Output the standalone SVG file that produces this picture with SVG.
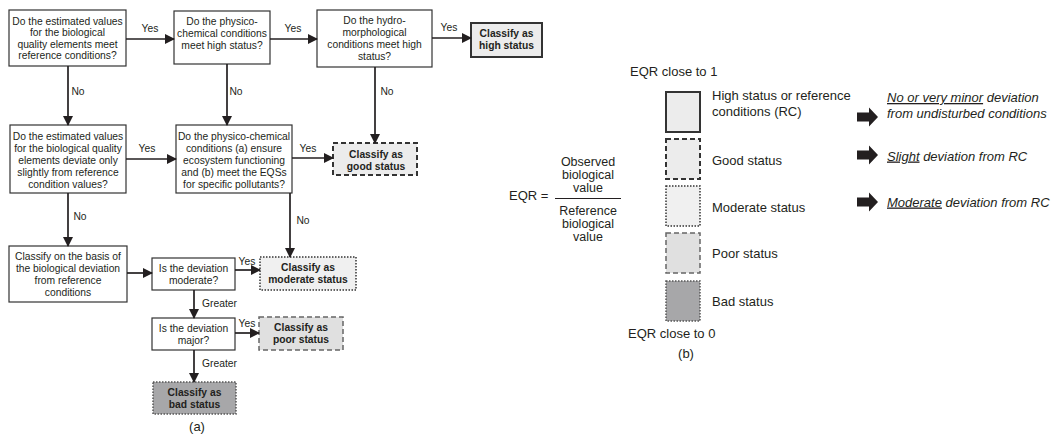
<svg xmlns="http://www.w3.org/2000/svg" width="1057" height="436" viewBox="0 0 1057 436">
<defs>
<marker id="ah" markerWidth="10" markerHeight="10" refX="9" refY="5" orient="auto" markerUnits="userSpaceOnUse">
<path d="M0,0 L10,5 L0,10 Z" fill="#231f20"/>
</marker>
<style>
text{font-family:"Liberation Sans",Arial,sans-serif;fill:#231f20}
.t{font-size:10.3px;text-anchor:middle}
.b{font-size:10.3px;text-anchor:middle;font-weight:bold}
.l{font-size:10.3px}
.lg{font-size:13px}
.fr{font-size:12.5px;text-anchor:middle}
.it{font-size:13px;font-style:italic}
.q{fill:#fff;stroke:#333;stroke-width:1.2}
.hi{fill:#ececec;stroke:#333;stroke-width:2}
.gd{fill:#ececec;stroke:#333;stroke-width:2;stroke-dasharray:5 3}
.md{fill:#f0f0f0;stroke:#333;stroke-width:1.5;stroke-dasharray:1.5 1.5}
.pr{fill:#e0e0e0;stroke:#666;stroke-width:1.5;stroke-dasharray:5 3}
.bd{fill:#a7a7a9;stroke:#555;stroke-width:1.5;stroke-dasharray:1.5 1.5}
.c{stroke:#231f20;stroke-width:1.7;fill:none;marker-end:url(#ah)}
.ba{fill:#231f20}
</style>
</defs>

<g id="q1"><rect class="q" x="9" y="10" width="117" height="56"/>
<text class="t" x="67.5" y="24.5">Do the estimated values</text>
<text class="t" x="67.5" y="36">for the biological</text>
<text class="t" x="67.5" y="47.5">quality elements meet</text>
<text class="t" x="67.5" y="59">reference conditions?</text></g>

<g id="q2"><rect class="q" x="174" y="11" width="96" height="53"/>
<text class="t" x="222" y="24.5">Do the physico-</text>
<text class="t" x="222" y="36.5">chemical conditions</text>
<text class="t" x="222" y="48.5">meet high status?</text></g>

<g id="q3"><rect class="q" x="317" y="10" width="115" height="57"/>
<text class="t" x="374.5" y="24">Do the hydro-</text>
<text class="t" x="374.5" y="36">morphological</text>
<text class="t" x="374.5" y="48">conditions meet high</text>
<text class="t" x="374.5" y="60">status?</text></g>

<g id="high"><rect class="hi" x="471" y="23" width="71" height="34"/>
<text class="b" x="506.5" y="37">Classify as</text>
<text class="b" x="506.5" y="49">high status</text></g>

<g id="q4"><rect class="q" x="10" y="125" width="116" height="68"/>
<text class="t" x="68" y="139.5">Do the estimated values</text>
<text class="t" x="68" y="151.5">for the biological quality</text>
<text class="t" x="68" y="163.5">elements deviate only</text>
<text class="t" x="68" y="175.5">slightly from reference</text>
<text class="t" x="68" y="187.5">condition values?</text></g>

<g id="q5"><rect class="q" x="176" y="125" width="116" height="68"/>
<text class="t" x="234" y="139.5">Do the physico-chemical</text>
<text class="t" x="234" y="151.5">conditions (a) ensure</text>
<text class="t" x="234" y="163.5">ecosystem functioning</text>
<text class="t" x="234" y="175.5">and (b) meet the EQSs</text>
<text class="t" x="234" y="187.5">for specific pollutants?</text></g>

<g id="good"><rect class="gd" x="333" y="143" width="84" height="32"/>
<text class="b" x="376" y="157.5">Classify as</text>
<text class="b" x="376" y="169.5">good status</text></g>

<g id="q6"><rect class="q" x="9" y="246" width="118" height="56"/>
<text class="t" x="68" y="259.5">Classify on the basis of</text>
<text class="t" x="68" y="271.5">the biological deviation</text>
<text class="t" x="68" y="283.5">from reference</text>
<text class="t" x="68" y="295.5">conditions</text></g>

<g id="q7"><rect class="q" x="152" y="258" width="83" height="32"/>
<text class="t" x="193.5" y="271.5">Is the deviation</text>
<text class="t" x="193.5" y="283.5">moderate?</text></g>

<g id="moderate"><rect class="md" x="260" y="257" width="96" height="33"/>
<text class="b" x="308" y="271">Classify as</text>
<text class="b" x="308" y="283">moderate status</text></g>

<g id="q8"><rect class="q" x="152" y="318" width="83" height="32"/>
<text class="t" x="193.5" y="331.5">Is the deviation</text>
<text class="t" x="193.5" y="343.5">major?</text></g>

<g id="poor"><rect class="pr" x="259" y="317" width="84" height="33"/>
<text class="b" x="301" y="331">Classify as</text>
<text class="b" x="301" y="343">poor status</text></g>

<g id="bad"><rect class="bd" x="153" y="382" width="83" height="32"/>
<text class="b" x="194.5" y="396">Classify as</text>
<text class="b" x="194.5" y="408">bad status</text></g>

<g id="connectors">
<line class="c" x1="126" y1="39" x2="174" y2="39"/>
<line class="c" x1="270" y1="39" x2="317" y2="39"/>
<line class="c" x1="432" y1="38" x2="471" y2="38"/>
<line class="c" x1="68" y1="66" x2="68" y2="125"/>
<line class="c" x1="227" y1="64" x2="227" y2="125"/>
<line class="c" x1="375" y1="67" x2="375" y2="143"/>
<line class="c" x1="126" y1="159" x2="176" y2="159"/>
<line class="c" x1="292" y1="158" x2="333" y2="158"/>
<line class="c" x1="68" y1="193" x2="68" y2="246"/>
<line class="c" x1="290" y1="193" x2="290" y2="257"/>
<line class="c" x1="127" y1="273" x2="152" y2="273"/>
<line class="c" x1="235" y1="270" x2="260" y2="270"/>
<line class="c" x1="194" y1="290" x2="194" y2="318"/>
<line class="c" x1="235" y1="333" x2="259" y2="333"/>
<line class="c" x1="194" y1="350" x2="194" y2="382"/>
<text class="t" x="150" y="32">Yes</text>
<text class="t" x="293" y="32">Yes</text>
<text class="t" x="449" y="31">Yes</text>
<text class="t" x="78" y="94.5">No</text>
<text class="t" x="236" y="94.5">No</text>
<text class="t" x="387" y="94.5">No</text>
<text class="t" x="147" y="152">Yes</text>
<text class="t" x="308" y="152">Yes</text>
<text class="t" x="80" y="219.5">No</text>
<text class="t" x="303" y="223.5">No</text>
<text class="t" x="247" y="265">Yes</text>
<text class="l" x="202" y="307">Greater</text>
<text class="t" x="247" y="327">Yes</text>
<text class="l" x="202" y="367">Greater</text>
</g>

<text class="lg" x="197" y="431" text-anchor="middle">(a)</text>

<g id="legend">
<text class="lg" x="630" y="76">EQR close to 1</text>
<rect class="hi" x="666" y="92" width="34" height="40"/>
<rect class="gd" x="666" y="139" width="34" height="40"/>
<rect class="md" x="666" y="186" width="34" height="40"/>
<rect class="pr" x="666" y="233" width="34" height="40"/>
<rect class="bd" x="666" y="281" width="34" height="40"/>
<text class="lg" x="712" y="99.5">High status or reference</text>
<text class="lg" x="712" y="115.5">conditions (RC)</text>
<text class="lg" x="712" y="164.5">Good status</text>
<text class="lg" x="712" y="211.5">Moderate status</text>
<text class="lg" x="712" y="257.5">Poor status</text>
<text class="lg" x="712" y="305.5">Bad status</text>
<text class="lg" x="628" y="337.5">EQR close to 0</text>
<text class="lg" x="686" y="357.5" text-anchor="middle">(b)</text>
</g>

<g id="arrows-b">
<path class="ba" d="M857,112.5 H869 V107.5 L878,117 L869,126.5 V121.5 H857 Z"/>
<path class="ba" d="M857,150.5 H869 V145.5 L878,155 L869,164.5 V159.5 H857 Z"/>
<path class="ba" d="M857,197.5 H869 V192.5 L878,202 L869,211.5 V206.5 H857 Z"/>
<text class="it" x="887" y="102"><tspan text-decoration="underline">No or very minor</tspan> deviation</text>
<text class="it" x="887" y="117.5">from undisturbed conditions</text>
<text class="it" x="887" y="160.5"><tspan text-decoration="underline">Slight</tspan> deviation from RC</text>
<text class="it" x="887" y="206.5"><tspan text-decoration="underline">Moderate</tspan> deviation from RC</text>
</g>

<g id="eqr">
<text class="lg" x="509" y="200">EQR =</text>
<line x1="555" y1="198.5" x2="621" y2="198.5" stroke="#231f20" stroke-width="1"/>
<text class="fr" x="588" y="166">Observed</text>
<text class="fr" x="588" y="179">biological</text>
<text class="fr" x="588" y="192">value</text>
<text class="fr" x="588" y="215">Reference</text>
<text class="fr" x="588" y="228">biological</text>
<text class="fr" x="588" y="241">value</text>
</g>
</svg>
